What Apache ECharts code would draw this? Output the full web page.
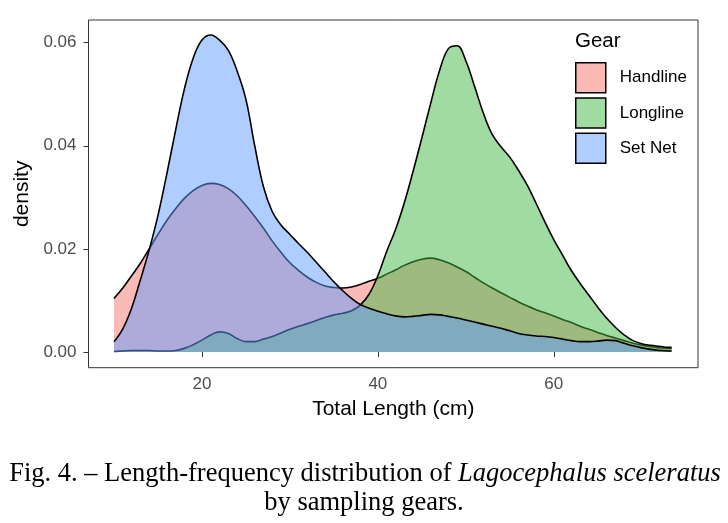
<!DOCTYPE html>
<html><head><meta charset="utf-8">
<script src="https://cdn.jsdelivr.net/npm/echarts@6/dist/echarts.min.js"></script>
<style>html,body{margin:0;padding:0;background:#fff}#c{width:728px;height:523px}</style>
</head><body><div id="c"></div>
<script>
// ---- data ----
const lengths = [10,11,12,13,14,15,16,17,18,19,20,21,22,23,24,25,26,27,28,29,30,31,32,33,34,35,36,37,38,39,40,41,42,43,44,45,46,47,48,49,50,51,52,53,54,55,56,57,58,59,60,61,62,63,64,65,66,67,68,69,70,71,72,73,73.4];
const handline = [0.0104,0.0124,0.0148,0.0172,0.0200,0.0228,0.0255,0.0278,0.0298,0.0313,
  0.0323,0.0327,0.0325,0.0317,0.0303,0.0284,0.0263,0.0240,0.0215,0.0193,
  0.0173,0.0158,0.0145,0.0135,0.0128,0.0125,0.0124,0.0126,0.0131,0.0137,
  0.0143,0.0151,0.0159,0.0168,0.0175,0.0180,0.0182,0.0179,0.0173,0.0165,
  0.0156,0.0145,0.0134,0.0124,0.0115,0.0106,0.0097,0.0089,0.0082,0.0076,
  0.0070,0.0063,0.0057,0.0050,0.0044,0.0038,0.0032,0.0027,0.0022,0.0017,
  0.0013,0.0010,0.0008,0.0007,0.0007];
const longline = [0.0001,0.0002,0.0003,0.0003,0.0003,0.0002,0.0002,0.0003,0.0007,0.0014,
  0.0023,0.0033,0.0039,0.0036,0.0026,0.0020,0.0020,0.0025,0.0030,0.0037,
  0.0044,0.0050,0.0055,0.0061,0.0067,0.0072,0.0075,0.0080,0.0091,0.0112,
  0.0148,0.0195,0.0237,0.0289,0.0350,0.0415,0.0482,0.0545,0.0588,0.0594,
  0.0565,0.0515,0.0463,0.0422,0.0398,0.0378,0.0352,0.0323,0.0288,0.0252,
  0.0218,0.0188,0.0158,0.0133,0.0110,0.0087,0.0066,0.0048,0.0033,0.0022,
  0.0016,0.0013,0.0011,0.0009,0.0009];
const setNet = [0.0020,0.0045,0.0085,0.0140,0.0198,0.0265,0.0345,0.0430,0.0510,0.0570,
  0.0605,0.0615,0.0605,0.0585,0.0545,0.0490,0.0400,0.0320,0.0272,0.0246,
  0.0228,0.0210,0.0193,0.0174,0.0155,0.0136,0.0119,0.0104,0.0092,0.0085,
  0.0079,0.0074,0.0070,0.0068,0.0069,0.0071,0.0073,0.0072,0.0069,0.0066,
  0.0062,0.0058,0.0054,0.0050,0.0046,0.0041,0.0036,0.0033,0.0031,0.0030,
  0.0028,0.0025,0.0022,0.0020,0.0020,0.0021,0.0023,0.0022,0.0017,0.0012,
  0.0008,0.0005,0.0003,0.0002,0.0002];
const gearNames = ['Handline','Longline','Set Net'];
const xTicks = [20,40,60];
const yTicks = [0,0.02,0.04,0.06];
const legendTitle = 'Gear';
const xTitle = 'Total Length (cm)';
const yTitle = 'density';
const captionLine1 = 'Fig. 4. – Length-frequency distribution of ';
const captionItalic = 'Lagocephalus sceleratus';
const captionLine2 = 'by sampling gears.';

// ---- chart ----
const SANS = '"Liberation Sans", Arial, Helvetica, sans-serif';
const SERIF = '"Liberation Serif", "Times New Roman", serif';
const fills = ['rgba(248,118,109,0.5)','rgba(66,186,70,0.5)','rgba(97,156,255,0.5)'];
const seriesValues = [handline, longline, setNet];

function makeSeries(i) {
  return {
    name: gearNames[i], type: 'line', z: 2 + i,
    data: lengths.map((x, k) => [x, seriesValues[i][k]]),
    smooth: 0.4, symbol: 'none', showSymbol: false,
    lineStyle: { color: '#000', width: 1.6 },
    itemStyle: { color: fills[i] },
    areaStyle: { color: fills[i], opacity: 1 },
    emphasis: { disabled: true }, silent: true
  };
}

const chart = echarts.init(document.getElementById('c'), null, { renderer: 'canvas' });
chart.setOption({
  animation: false,
  backgroundColor: '#fff',
  grid: { left: 88.5, right: 30, top: 20, bottom: 155.3, show: true,
          borderColor: '#333', borderWidth: 1, backgroundColor: 'transparent',
          containLabel: false, outerBoundsMode: 'none' },
  title: { text: legendTitle, left: 575, top: 31, padding: 0,
           textStyle: { fontSize: 20.5, fontWeight: 'normal', color: '#000', fontFamily: SANS } },
  legend: {
    data: gearNames.map(n => ({ name: n, icon: 'rect' })),
    orient: 'vertical', left: 575, top: 62, padding: 0,
    itemWidth: 30, itemHeight: 30, itemGap: 3.8, selectedMode: false,
    itemStyle: { borderColor: '#000', borderWidth: 1.5 },
    textStyle: { fontSize: 17, color: '#000', fontFamily: SANS, padding: [0, 0, 0, 9] }
  },
  xAxis: {
    type: 'value', min: 7.1, max: 76.4,
    name: xTitle, nameLocation: 'middle', nameGap: 31,
    nameTextStyle: { fontSize: 21, color: '#000', fontFamily: SANS },
    axisLine: { show: false }, splitLine: { show: false },
    axisTick: { show: true, length: 5, lineStyle: { color: '#333', width: 1 }, customValues: xTicks },
    axisLabel: { customValues: xTicks, margin: 8, fontSize: 17, color: '#4d4d4d', fontFamily: SANS }
  },
  yAxis: {
    type: 'value', min: -0.00305, max: 0.0644,
    name: yTitle, nameLocation: 'middle', nameGap: 53,
    nameTextStyle: { fontSize: 21, color: '#000', fontFamily: SANS },
    axisLine: { show: false }, splitLine: { show: false },
    axisTick: { show: true, length: 5, lineStyle: { color: '#333', width: 1 }, customValues: yTicks },
    axisLabel: { customValues: yTicks, margin: 12, fontSize: 17, color: '#4d4d4d', fontFamily: SANS,
                 formatter: v => v.toFixed(2) }
  },
  series: [makeSeries(0), makeSeries(1), makeSeries(2)],
  graphic: [
    { type: 'text', x: 365, y: 474, silent: true,
      style: { text: '{n|' + captionLine1 + '}{i|' + captionItalic + '}',
               align: 'center', verticalAlign: 'middle',
               rich: { n: { fontSize: 26.5, fontFamily: SERIF, fill: '#000' },
                       i: { fontSize: 26.5, fontFamily: SERIF, fontStyle: 'italic', fill: '#000' } } } },
    { type: 'text', x: 364, y: 503, silent: true,
      style: { text: captionLine2, align: 'center', verticalAlign: 'middle',
               fontSize: 26.5, fontFamily: SERIF, fill: '#000' } }
  ]
});
</script>
</body></html>
